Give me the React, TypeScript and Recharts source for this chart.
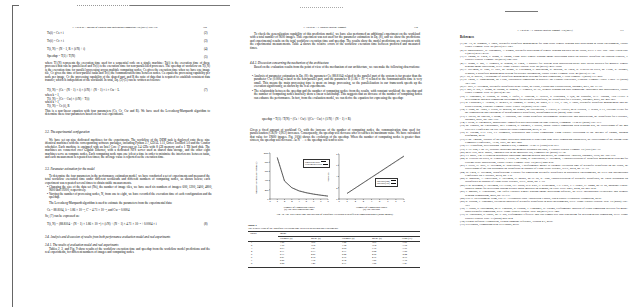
import React from 'react'
import { LineChart, Line, XAxis, YAxis } from 'recharts'

// data (Fig. 10)
const nodes = [1, 2, 3, 4, 5, 6, 7, 8]
const simTime = [900, 390, 245, 175, 135, 105, 82, 62]
const expTime = [905, 395, 250, 180, 140, 110, 86, 66]
const simSpeedup = [1, 1.95, 2.9, 3.85, 4.8, 5.75, 6.7, 7.65]
const expSpeedup = [1, 1.92, 2.86, 3.8, 4.74, 5.68, 6.62, 7.56]
const xTicks = [0, 1, 2, 3, 4, 5, 6, 7, 8]
const timeTicks = [0, 100, 200, 300, 400, 500, 600, 700, 800, 900, 1000]
const speedupTicks = [0, 1, 2, 3, 4, 5, 6, 7, 8]

// Table 4
const tableNodes = ['1', '2', '3', '4', '5', '6', '7', '8']
const imgEstimate = ['1.80', '1.90', '2.03', '2.11', '2.17', '2.21', '2.25', '2.28']
const imgMeas = ['18.6', '10.2', '7.21', '5.73', '4.80', '4.18', '3.72', '3.40']
const estimate = ['1.82', '1.94', '2.08', '2.17', '2.24', '2.30', '2.34', '2.37']
const meas = ['18.9', '10.4', '7.35', '5.84', '4.92', '4.30', '3.85', '3.52']
const errorPct = ['-1.60', '-1.92', '-1.90', '-1.88', '-2.44', '-2.79', '-3.38', '-3.41']

const timeData = nodes.map((n, i) => ({ n, sim: simTime[i], exp: expTime[i] }))
const speedData = nodes.map((n, i) => ({ n, sim: simSpeedup[i], exp: expSpeedup[i] }))

const ink = '#000'
const fs = 3.1
const lh = 3.4

const T = ({ x, y, children, size = fs, w, align, bold, italic }: any) => (
  <div
    style={{
      position: 'absolute', left: x, top: y, fontSize: size, lineHeight: `${size + 0.4}px`,
      whiteSpace: 'nowrap', width: w, textAlign: align || 'left',
      fontWeight: bold ? 700 : 400, fontStyle: italic ? 'italic' : 'normal',
    }}
  >
    {children}
  </div>
)

const Block = ({ x, y, w, text, indent = 0, hang = 0 }: any) => (
  <div
    style={{
      position: 'absolute', left: x, top: y, width: w,
      fontSize: fs, lineHeight: `${lh}px`, textAlign: 'justify',
      textIndent: hang ? -hang : indent, paddingLeft: hang,
    }}
  >
    {text}
  </div>
)

const Rule = ({ x, y, w, h = 0.5, c = '#333' }: any) => (
  <div style={{ position: 'absolute', left: x, top: y, width: w, height: h, background: c }} />
)

const paraA =
  'where T(i,N) represents the execution time used for a sequential code on a single machine; Ts(i) is the execution time of those processes that can be parallelized and Tc(i) is the execution time for non-parallelized processes. The speedup of workflow on T(i,N) is the execution time for parallel processing across multiple computing nodes, Cs gives the execution time when we have one image tile, Cc gives the time of non-parallel tasks and Tc(i) the communication time between nodes. Cs equals the processing capability per node per image, Cc the processing capability of the shared part, and R the ratio of data that is required to establish consistent data transfer, which is independent of the workload. In total, Eq. (2)-(5) can be written as follows:'
const paraB =
  'This is a non-linear equation with four parameters (Cs, Cc, Cw and R). We have used the Levenberg-Marquardt algorithm to determine these four parameters based on our real experiments.'
const paraC =
  'We have set up nine dedicated machines for the experiments. The workflow of the DEM task is deployed onto these nine identical machines with the corresponding software packages, including Python 2.7, GDAL 1.11, Orfeo ToolBox 5.0 and the Condor scheduler. Each machine is equipped with an Intel Core i7 processor at 3.4 GHz with 8 GB memory and a 1 TB hard disk. The machines are connected over Gigabit Ethernet, with a dedicated NFS server used as shared data storage, and the other eight machines serve as compute nodes. Each computing node runs one job at a time in order to minimise the interference between tasks, and each measurement is repeated ten times; the average value is reported as the execution time.'
const paraD =
  'To determine the four parameters in the performance estimation model, we have conducted a set of experiments and measured the total workflow execution time under different workloads and different numbers of computing nodes, as shown below; each experiment was repeated several times to obtain stable measurements.'
const bulletA =
  '\u2022 Changing the size of the data set (Ns), the number of image tiles, we have used six numbers of images: 600, 1200, 2400, 4800, 9600 and 19200, respectively.'
const bulletB =
  '\u2022 Varying the number of processing nodes, N, from one to eight, we have recorded the execution time of each configuration and the speedup.'
const paraE = 'The Levenberg-Marquardt algorithm is used to estimate the parameters from the experimental data:'
const paraF =
  'Tables 2, 3, and Fig. 9 show results of the workflow execution time and speedup from the workflow model predictions and the real experiments, for different numbers of images and computing nodes.'

const paraG =
  'To check the generalization capability of this prediction model, we have also performed an additional experiment on the workload with a total number of 9600 images. This experiment was not used for the parameter estimation in Eq. (8), and we show the predictions and experimental results on the total workflow execution time and speedup. The results show the model predictions are consistent with the experimental measurements. Table 4 shows the relative errors of the workflow execution time between predicted and measured times.'
const paraH =
  'Based on the evaluation results from the point of view of the mechanism of our architecture, we can make the following observations:'
const bullet1 =
  '\u2022 Analysis of parameter estimation in Eq. (8): the parameter Cs (88.8104) related to the parallel part of the system is far greater than the parameter Cw (0.0004) related to the non-parallel part, and the parameter R (1.86 \u00d7 10\u207b\u2074) related to the communication time is very small. This means the main processing time is spent on image processing, so the parallelization in our framework speeds up the execution significantly, as shown by the real experiments.'
const bullet2 =
  '\u2022 The relationship between the speedup and the number of computing nodes: from the results, with constant workload, the speedup and the number of computing nodes basically show a linear relationship. This suggests that an increase of the number of computing nodes can enhance the performance. In fact, from the evaluation model, we can derive the equation for expressing the speedup:'
const paraI =
  'Given a fixed amount of workload Cs, with the increase of the number of computing nodes, the communication time used for parallelization (CR(N\u22121)N/2) increases. Consequently, the speedup will decrease after it reaches its maximum value. We have calculated that value for 19600 images. Fig. 10(b) shows the evolution of the speedup. When the number of computing nodes is greater than sixteen, the speedup will decrease. As N \u2192 \u221e the speedup will tend to zero.'

const refs = [
  '[1] M. Ali, B. Schmidt, J. Zhou, Scientific workflow management for large-scale remote sensing data processing in cloud environment, Future Gener. Comput. Syst. 56 (2016) 511\u2013523.',
  '[2] D. Bhattacharjee, K. Nakamura, A. Kumar, Scientific processing of remote sensing big data on the cloud, IEEE J. Sel. Top. Appl. Earth Obs. 9 (2016) 2103\u20132115.',
  '[3] C. Zhang, K. Chen, F. Wang, Z. Zhong, Large scale remote sensing image processing based on parallel workflow on Hadoop clusters, J. Parallel Distrib. Comput. 98 (2016) 148\u2013160.',
  '[4] L. Wang, Y. Ma, A. Zomaya, R. Ranjan, D. Chen, A parallel file system with application-aware data layout policies for massive remote sensing image processing, IEEE Trans. Parallel Distrib. Syst. 26 (2015) 1497\u20131508.',
  '[5] E. Deelman, K. Vahi, G. Juve, M. Rynge, S. Callaghan, P. Maechling, R. Mayani, W. Chen, R. Ferreira da Silva, M. Livny, K. Wenger, Pegasus, a workflow management system for science automation, Future Gener. Comput. Syst. 46 (2015) 17\u201335.',
  '[6] J. Yu, R. Buyya, A taxonomy of workflow management systems for grid computing, J. Grid Comput. 3 (2005) 171\u2013200.',
  '[7] D. Thain, T. Tannenbaum, M. Livny, Distributed computing in practice: the Condor experience, Concurr. Comput.: Pract. Exper. 17 (2005) 323\u2013356.',
  '[8] G. Juve, E. Deelman, Scientific workflows in the cloud, in: Grids, Clouds and Virtualization, Springer, 2011, pp. 71\u201391.',
  '[9] Y. Ma, H. Wu, L. Wang, B. Huang, R. Ranjan, A. Zomaya, W. Jie, Remote sensing big data computing: challenges and opportunities, Future Gener. Comput. Syst. 51 (2015) 47\u201360.',
  '[10] T. Fahringer, R. Prodan, R. Duan, J. Hofer, F. Nadeem, F. Nerieri, S. Podlipnig, J. Qin, M. Siddiqui, H.-L. Truong, ASKALON: a development and grid computing environment for scientific workflows, in: Workflows for e-Science, Springer, 2007, pp. 450\u2013471.',
  '[11] B. Lud\u00e4scher, I. Altintas, C. Berkley, D. Higgins, E. Jaeger, M. Jones, E.A. Lee, J. Tao, Y. Zhao, Scientific workflow management and the Kepler system, Concurr. Comput.: Pract. Exper. 18 (2006) 1039\u20131065.',
  '[12] T. Oinn, M. Addis, J. Ferris, D. Marvin, M. Senger, M. Greenwood, T. Carver, K. Glover, M.R. Pocock, A. Wipat, P. Li, Taverna: a tool for the composition and enactment of bioinformatics workflows, Bioinformatics 20 (2004) 3045\u20133054.',
  '[13] I. Taylor, M. Shields, I. Wang, A. Harrison, The Triana workflow environment: architecture and applications, in: Workflows for e-Science, Springer, 2007, pp. 320\u2013339.',
  '[14] J. Dean, S. Ghemawat, MapReduce: simplified data processing on large clusters, Commun. ACM 51 (2008) 107\u2013113.',
  '[15] M. Zaharia, M. Chowdhury, M.J. Franklin, S. Shenker, I. Stoica, Spark: cluster computing with working sets, in: Proceedings of the 2nd USENIX Conference on Hot Topics in Cloud Computing, 2010, p. 10.',
  '[16] K. Hwang, G.C. Fox, J.J. Dongarra, Distributed and Cloud Computing: From Parallel Processing to the Internet of Things, Morgan Kaufmann, 2012.',
  '[17] G.M. Amdahl, Validity of the single processor approach to achieving large scale computing capabilities, in: Proceedings of the Spring Joint Computer Conference, ACM, 1967, pp. 483\u2013485.',
  '[18] J.L. Gustafson, Reevaluating Amdahl\u2019s law, Commun. ACM 31 (1988) 532\u2013533.',
  '[19] X.-H. Sun, L.M. Ni, Scalable problems and memory-bounded speedup, J. Parallel Distrib. Comput. 19 (1993) 27\u201337.',
  '[20] M.D. Hill, M.R. Marty, Amdahl\u2019s law in the multicore era, Computer 41 (2008) 33\u201338.',
  '[21] J.J. Mor\u00e9, The Levenberg-Marquardt algorithm: implementation and theory, in: Numerical Analysis, Springer, 1978, pp. 105\u2013116.',
  '[22] R. Ferreira da Silva, R. Filgueira, I. Pietri, M. Jiang, R. Sakellariou, E. Deelman, A characterization of workflow management systems for extreme-scale applications, Future Gener. Comput. Syst. 75 (2017) 228\u2013238.',
  '[23] I. Pietri, G. Juve, E. Deelman, R. Sakellariou, A performance model to estimate execution time of scientific workflows on the cloud, in: Proceedings of the 9th Workshop on Workflows in Support of Large-Scale Science, IEEE, 2014, pp. 11\u201319.',
  '[24] W. Chen, E. Deelman, WorkflowSim: a toolkit for simulating scientific workflows in distributed environments, in: IEEE 8th International Conference on E-Science, 2012, pp. 1\u20138.',
  '[25] S. Bharathi, A. Chervenak, E. Deelman, G. Mehta, M.-H. Su, K. Vahi, Characterization of scientific workflows, in: Third Workshop on Workflows in Support of Large-Scale Science, IEEE, 2008, pp. 1\u201310.',
  '[26] G.B. Berriman, E. Deelman, J.C. Good, J.C. Jacob, D.S. Katz, C. Kesselman, A.C. Laity, T.A. Prince, G. Singh, M.-H. Su, Montage: a grid-enabled engine for delivering custom science-grade mosaics on demand, in: Proc. SPIE 5493, 2004, pp. 221\u2013232.',
  '[27] J. Inglada, E. Christophe, The Orfeo Toolbox remote sensing image processing software, in: IEEE International Geoscience and Remote Sensing Symposium, 2009, pp. IV-733.',
  '[28] GDAL Development Team, GDAL - Geospatial Data Abstraction Library, Open Source Geospatial Foundation, 2016.',
  '[29] R. Prodan, T. Fahringer, Overhead analysis of scientific workflows in grid environments, IEEE Trans. Parallel Distrib. Syst. 19 (2008) 378\u2013393.',
  '[30] A. Iosup, S. Ostermann, M.N. Yigitbasi, R. Prodan, T. Fahringer, D. Epema, Performance analysis of cloud computing services for many-tasks scientific computing, IEEE Trans. Parallel Distrib. Syst. 22 (2011) 931\u2013945.',
  '[31] H. Topcuoglu, S. Hariri, M.-Y. Wu, Performance-effective and low-complexity task scheduling for heterogeneous computing, IEEE Trans. Parallel Distrib. Syst. 13 (2002) 260\u2013274.',
  '[32] Python Software Foundation, Python language reference, version 2.7, 2016.',
  '[33] HTCondor, Computing with HTCondor, 2016.',
]

const legendBox = (x: number, y: number, a: string, b: string) => (
  <div
    style={{
      position: 'absolute', left: x, top: y, border: '0.4px solid #333', padding: '0.6px 1px',
      fontSize: 2.2, lineHeight: '2.7px', background: '#fff',
    }}
  >
    {[a, b].map((s, i) => (
      <div key={s} style={{ display: 'flex', alignItems: 'center', whiteSpace: 'nowrap' }}>
        <span style={{ marginRight: 1 }}>{s}</span>
        <span style={{ width: 5, borderTop: `0.4px ${i ? 'dashed' : 'solid'} #111` }} />
      </div>
    ))}
  </div>
)

const axisProps = {
  stroke: '#222', strokeWidth: 0.4, tickSize: 1, tickMargin: 0.5,
  tick: { fontSize: 2.2, fill: ink, fontFamily: 'Liberation Sans, sans-serif' },
}

function TimeChart() {
  return (
    <LineChart width={78} height={58} data={timeData} margin={{ top: 3, right: 5, bottom: 0, left: 0 }}>
      <XAxis
        dataKey="n" type="number" domain={[0, 8]} ticks={xTicks} height={9} {...axisProps}
        label={{ value: 'Number of Computing Nodes', position: 'insideBottom', offset: 0, fontSize: 2.6, fill: ink }}
      />
      <XAxis xAxisId="top" orientation="top" dataKey="n" type="number" domain={[0, 8]} height={0} tick={false} stroke="#222" strokeWidth={0.4} />
      <YAxis
        domain={[0, 1000]} ticks={timeTicks} width={15} {...axisProps}
        label={{ value: 'Simulation Computation Time (s)', angle: -90, position: 'insideLeft', offset: 1, fontSize: 2.4, fill: ink, dy: 18 }}
      />
      <YAxis yAxisId="right" orientation="right" domain={[0, 1000]} width={0} tick={false} stroke="#222" strokeWidth={0.4} />
      <Line dataKey="sim" stroke="#111" strokeWidth={0.6} dot={false} isAnimationActive={false} />
      <Line dataKey="exp" stroke="#333" strokeWidth={0.4} strokeDasharray="1 0.6" dot={false} isAnimationActive={false} />
    </LineChart>
  )
}

function SpeedupChart() {
  return (
    <LineChart width={85} height={57} data={speedData} margin={{ top: 3, right: 5, bottom: 0, left: 0 }}>
      <XAxis
        dataKey="n" type="number" domain={[0, 8]} ticks={xTicks} height={9} {...axisProps}
        label={{ value: 'Number of Computing Nodes', position: 'insideBottom', offset: 0, fontSize: 2.6, fill: ink }}
      />
      <XAxis xAxisId="top" orientation="top" dataKey="n" type="number" domain={[0, 8]} height={0} tick={false} stroke="#222" strokeWidth={0.4} />
      <YAxis
        domain={[0, 8]} ticks={speedupTicks} width={15} {...axisProps}
        label={{ value: 'Speedup', angle: -90, position: 'insideLeft', offset: 4, fontSize: 2.6, fill: ink, dy: 5 }}
      />
      <YAxis yAxisId="right" orientation="right" domain={[0, 8]} width={0} tick={false} stroke="#222" strokeWidth={0.4} />
      <Line dataKey="sim" stroke="#111" strokeWidth={0.6} dot={false} isAnimationActive={false} />
      <Line dataKey="exp" stroke="#333" strokeWidth={0.4} strokeDasharray="1 0.6" dot={false} isAnimationActive={false} />
    </LineChart>
  )
}

const tableCols = [imgEstimate, imgMeas, estimate, meas, errorPct]
const colX = [280, 311, 342, 372, 402]
const colHead = ['Estimate (s)', 'Meas. (s)', 'Estimate (s)', 'Meas. (s)', 'Error (%)']

export default function App() {
  return (
    <div
      style={{
        position: 'absolute', left: 0, top: 0, width: 638, height: 307, background: '#fff', overflow: 'hidden',
        fontFamily: '"Liberation Serif", "DejaVu Serif", serif', color: ink,
      }}
    >
      {/* scan borders */}
      <div style={{ position: 'absolute', left: 12, top: 5, width: 0.6, height: 302, background: '#666' }} />
      <Rule x={12} y={5} w={7} h={0.6} c="#666" />
      <div style={{ position: 'absolute', left: 77, top: 5, width: 53, borderTop: '0.6px dotted #999' }} />
      <Rule x={130} y={5} w={100} h={0.6} c="#777" />
      <div style={{ position: 'absolute', left: 300, top: 7, width: 43, borderTop: '0.6px dotted #aaa' }} />
      <Rule x={505} y={11} w={33} h={0.6} c="#777" />

      {/* left page */}
      <T x={40} y={26} w={150} align="center" size={2.6} italic>L. Liu et al. / Journal of Parallel and Distributed Computing 110 (2017) 160–172</T>
      <T x={203} y={26} size={2.6}>169</T>
      <T x={47} y={32}>Ts(i) = Cs × i</T><T x={204} y={32}>(2)</T>
      <T x={47} y={40}>Tc(i) = Cc × i</T><T x={204} y={40}>(3)</T>
      <T x={47} y={48}>T(i, N) = (N − 1, R × (i/N) + i)</T><T x={204} y={48}>(4)</T>
      <T x={47} y={55}>Speedup = T(1) / T(N)</T><T x={204} y={56}>(5)</T>
      <Block x={45} y={62} w={165} text={paraA} />
      <T x={47} y={89}>T(i, N) = (Cs − (N − 1) × i) × (i/N) + (N − 1) × i × Cw + L</T><T x={204} y={89}>(7)</T>
      <T x={45} y={94}>when k = 1,</T>
      <T x={47} y={97.5}>T(i, N) = (Cc − Cw) × (i/N) + T(i)</T>
      <T x={45} y={101}>when k &gt; 1,</T>
      <T x={47} y={104.5}>T(i, N) = Cc (i), R</T>
      <Block x={45} y={110} w={165} text={paraB} />
      <T x={45} y={131} italic>3.2. The experimental configuration</T>
      <Block x={45} y={139} w={165} indent={4} text={paraC} />
      <T x={45} y={168} italic>3.3. Parameter estimation for the model</T>
      <Block x={45} y={175} w={165} indent={4} text={paraD} />
      <Block x={47} y={186} w={163} hang={2} text={bulletA} />
      <Block x={47} y={193} w={163} hang={2} text={bulletB} />
      <Block x={45} y={202} w={165} indent={4} text={paraE} />
      <T x={47} y={209}>Cs = 88.8104,   λ = 1.86 × 10⁻⁴,   C′ = 4.71 × 10⁻⁴,   and   Cw = 0.0004</T>
      <T x={45} y={215}>So, (7) can be expressed as:</T>
      <T x={47} y={223}>T(i, N) = (88.8104 − (N − 1) × 1.86 × 10⁻⁴) × (i/N) + (N − 1) × 4.71 × 10⁻⁴ + 0.0004 × i</T><T x={204} y={223}>(8)</T>
      <T x={45} y={236} italic>3.4. Analysis and discussion of results from both performance evaluation model and real experiments</T>
      <T x={45} y={244} italic>3.4.1. The results of evaluation model and real experiments</T>
      <Block x={45} y={248} w={165} indent={4} text={paraF} />

      {/* middle page */}
      <T x={290} y={26} w={70} align="center" size={2.6} italic>L. Liu et al. / J. Parallel Distrib. Comput.</T>
      <T x={414} y={26} size={2.6}>170</T>
      <Block x={250} y={33} w={170} indent={4} text={paraG} />
      <T x={250} y={62} italic>4.4.2. Discussion concerning the mechanism of the architecture</T>
      <Block x={250} y={66} w={170} indent={4} text={paraH} />
      <Block x={252} y={75} w={168} hang={2} text={bullet1} />
      <Block x={252} y={90} w={168} hang={2} text={bullet2} />
      <T x={262} y={118}>speedup = T(1) / T(N) = (Cs + Cw) / ((Cs − Cw) × (1/N) + (N − 1) × R)</T>
      <Block x={250} y={129} w={170} text={paraI} />

      <div style={{ position: 'absolute', left: 255, top: 150 }}><TimeChart /></div>
      <div style={{ position: 'absolute', left: 324, top: 151 }}><SpeedupChart /></div>
      {legendBox(303, 159, 'Simulation result', 'Experimental result')}
      {legendBox(375, 178, 'Speedup (sim)', 'Speedup (exp)')}
      <T x={270} y={208} w={58} align="center" size={2.6}>(a) The total simulation time</T>
      <T x={339} y={208} w={65} align="center" size={2.6}>(b) The speedup</T>
      <T x={255} y={213} w={160} align="center" size={2.6}>Fig. 10. The wall-clock time and speedup of workflow execution with different computing nodes (9600 images).</T>

      <T x={248} y={223.5} bold size={2.8}>Table 4</T>
      <T x={248} y={227} size={2.6}>The relative error of the workflow execution time between prediction and experiments.</T>
      <Rule x={248} y={231} w={172} h={0.6} />
      <T x={250} y={232} size={2.6}>Nodes</T>
      <T x={280} y={232} size={2.6}>Image</T>
      <Rule x={278} y={236} w={142} h={0.4} />
      {colHead.map((h, j) => (
        <T key={h + j} x={colX[j]} y={237} size={2.6}>{h}</T>
      ))}
      <Rule x={248} y={241} w={172} h={0.4} />
      {tableNodes.map((n, i) => (
        <React.Fragment key={n}>
          <T x={251} y={242 + i * 3} size={2.4}>{n}</T>
          {tableCols.map((col, j) => (
            <T key={j} x={colX[j]} y={242 + i * 3} size={2.4}>{col[i]}</T>
          ))}
        </React.Fragment>
      ))}
      <Rule x={248} y={266.5} w={172} h={0.6} />

      {/* right page */}
      <T x={505} y={29} w={80} align="center" size={2.6} italic>L. Liu et al. / J. Parallel Distrib. Comput. 110 (2017)</T>
      <T x={620} y={29} size={2.6}>171</T>
      <T x={460} y={36} bold size={3}>References</T>
      <div
        style={{
          position: 'absolute', left: 460, top: 42, width: 168,
          fontSize: 2.9, lineHeight: '3.3px', textAlign: 'justify',
        }}
      >
        {refs.map((r) => (
          <div key={r} style={{ paddingLeft: 5, textIndent: -5 }}>{r}</div>
        ))}
      </div>
    </div>
  )
}
